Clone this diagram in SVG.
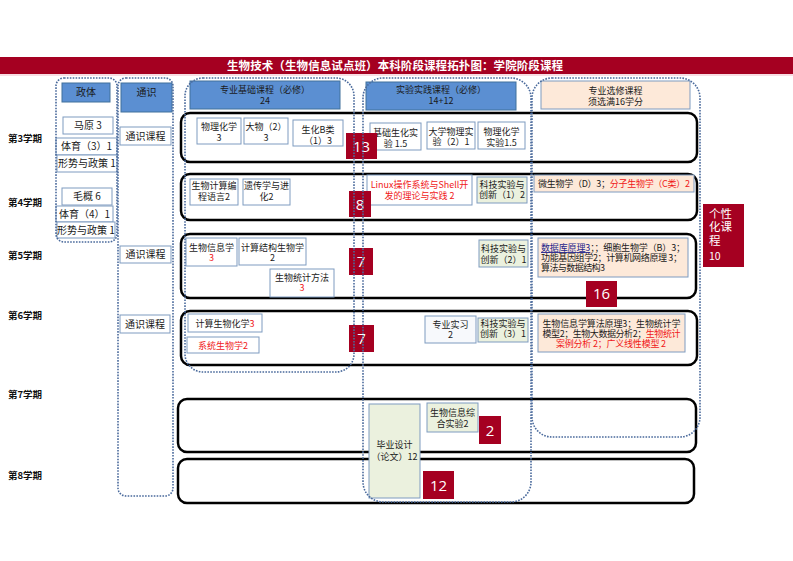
<svg xmlns="http://www.w3.org/2000/svg" width="793" height="561" viewBox="0 0 793 561">
<style>
text{font-family:"Noto Sans CJK SC","Noto Sans",sans-serif}
.box{fill:#fff;stroke:#7E9BC0;stroke-width:1}
.green{fill:#EBF1DE;stroke:#7E9BC0;stroke-width:1}
.peach{fill:#FDE9D9;stroke:#7E9BC0;stroke-width:1}
.hdr{fill:#5B8FD2;stroke:#41719C;stroke-width:1}
.row{fill:none;stroke:#000;stroke-width:2.5}
.col{fill:none;stroke:#4A6A9C;stroke-width:1.6;stroke-dasharray:1.6 1.3}
.num{fill:#A50021}
.numt{font-family:"Open Sans","Liberation Sans",sans-serif;font-size:15px;fill:#fff;text-anchor:middle}
.t{font-size:9px;fill:#1a1a1a;text-anchor:middle}
.tl{font-size:10px;fill:#1a1a1a;text-anchor:middle}
.ts{font-size:9px;fill:#1a1a1a}
.r{fill:#F01818}
.nv{fill:#1F1F8A}
.sem{font-size:9.5px;font-weight:bold;fill:#111}
</style>

<g id="title">
<rect x="0" y="57" width="793" height="17" fill="#A50021"/>
<rect x="0" y="74" width="793" height="2" fill="#F8DDE3"/>
<text x="395" y="69.8" font-size="11.5" font-weight="bold" fill="#fff" text-anchor="middle" textLength="336">生物技术（生物信息试点班）本科阶段课程拓扑图：学院阶段课程</text>
</g>

<g id="semesters">
<text class="sem" x="8" y="141.5">第3学期</text>
<text class="sem" x="8" y="205.5">第4学期</text>
<text class="sem" x="8" y="258.5">第5学期</text>
<text class="sem" x="8" y="318.5">第6学期</text>
<text class="sem" x="8" y="397.5">第7学期</text>
<text class="sem" x="8" y="478.5">第8学期</text>
</g>

<g id="rows">
<rect id="row3" class="row" x="181" y="113" width="516" height="49" rx="9"/>
<rect id="row4" class="row" x="181" y="174" width="516" height="46" rx="9"/>
<rect id="row5" class="row" x="181" y="234" width="515" height="64" rx="9"/>
<rect id="row6" class="row" x="181" y="311" width="516" height="54" rx="9"/>
<rect id="row7" class="row" x="178" y="399" width="518" height="53" rx="9"/>
<rect id="row8" class="row" x="178" y="459" width="516" height="44" rx="9"/>
</g>

<g id="zhengti-col">
<g id="h-zhengti"><rect class="hdr" x="62" y="83" width="48" height="19"/><text class="tl" x="86" y="96">政体</text></g>
<g id="mayuan"><rect class="box" x="63" y="117" width="50" height="17"/><text class="tl" x="88" y="129">马原 3</text></g>
<g id="tiyu3"><rect class="box" x="56" y="138" width="61" height="17"/><text class="tl" x="86.5" y="150">体育（3）1</text></g>
<g id="xingshi3"><rect class="box" x="57" y="155" width="60" height="17"/><text class="tl" x="87" y="167" font-size="9">形势与政策 1</text></g>
<g id="maogai"><rect class="box" x="62" y="188" width="50" height="17"/><text class="tl" x="87" y="200">毛概 6</text></g>
<g id="tiyu4"><rect class="box" x="56" y="206" width="57" height="16"/><text class="tl" x="84.5" y="218">体育（4）1</text></g>
<g id="xingshi4"><rect class="box" x="57" y="222" width="58" height="16"/><text class="tl" x="86" y="234" font-size="9">形势与政策 1</text></g>
</g>

<g id="tongshi-col">
<g id="h-tongshi"><rect class="hdr" x="121" y="83" width="51" height="29"/><text class="tl" x="146.5" y="96">通识</text></g>
<g id="ts3"><rect class="box" x="120" y="127" width="51" height="18"/><text class="tl" x="145.5" y="140">通识课程</text></g>
<g id="ts5"><rect class="box" x="120" y="246" width="51" height="17"/><text class="tl" x="145.5" y="258">通识课程</text></g>
<g id="ts6"><rect class="box" x="120" y="315" width="50" height="18"/><text class="tl" x="145" y="328">通识课程</text></g>
</g>

<g id="jichu-col">
<g id="h-jichu"><rect class="hdr" x="190" y="81" width="150" height="28"/><text class="t"><tspan x="265" y="93">专业基础课程（必修）</tspan><tspan x="265" y="104">24</tspan></text></g>
<g id="wlhx"><rect class="box" x="197" y="118" width="44" height="26"/><text class="t"><tspan x="219" y="130">物理化学</tspan><tspan x="219" y="141">3</tspan></text></g>
<g id="dawu"><rect class="box" x="244" y="118" width="44" height="26"/><text class="t"><tspan x="266" y="130">大物（2）</tspan><tspan x="266" y="141">3</tspan></text></g>
<g id="shenghua"><rect class="box" x="293" y="120" width="50" height="26"/><text class="t"><tspan x="318" y="133">生化B类</tspan><tspan x="318" y="144">（1）3</tspan></text></g>
<g id="swjsbc"><rect class="box" x="190" y="179" width="48" height="26"/><text class="t"><tspan x="214" y="189">生物计算编</tspan><tspan x="214" y="200">程语言2</tspan></text></g>
<g id="ychx"><rect class="box" x="243" y="179" width="47" height="26"/><text class="t"><tspan x="266.5" y="189">遗传学与进</tspan><tspan x="266.5" y="200">化2</tspan></text></g>
<g id="swxxx"><rect class="box" x="186" y="238" width="51" height="28"/><text class="t"><tspan x="211.5" y="251">生物信息学</tspan><tspan class="r" x="211.5" y="261">3</tspan></text></g>
<g id="jsjg"><rect class="box" x="239" y="238" width="67" height="27"/><text class="t"><tspan x="272.5" y="251">计算结构生物学</tspan><tspan x="272.5" y="261">2</tspan></text></g>
<g id="swtj"><rect class="box" x="270" y="269" width="64" height="28"/><text class="t"><tspan x="302" y="281">生物统计方法</tspan><tspan class="r" x="302" y="291">3</tspan></text></g>
<g id="jsswhx"><rect class="box" x="188" y="314" width="74" height="18"/><text class="t" x="225" y="326.5">计算生物化学<tspan class="r">3</tspan></text></g>
<g id="xtswx"><rect class="box" x="187" y="337" width="72" height="16"/><text class="t r" x="223" y="348.5">系统生物学2</text></g>
</g>

<g id="shiyan-col">
<g id="h-shiyan"><rect class="hdr" x="366" y="82" width="150" height="28"/><text class="t"><tspan x="441" y="93">实验实践课程（必修）</tspan><tspan x="441" y="104">14+12</tspan></text></g>
<g id="jcsh"><rect class="box" x="370" y="123" width="51" height="27"/><text class="t"><tspan x="395.5" y="136">基础生化实</tspan><tspan x="395.5" y="146.5">验 1.5</tspan></text></g>
<g id="dxwl"><rect class="box" x="427" y="122" width="48" height="27"/><text class="t"><tspan x="451" y="135">大学物理实</tspan><tspan x="451" y="145">验（2）1</tspan></text></g>
<g id="wlhxsy"><rect class="box" x="478" y="122" width="47" height="27"/><text class="t"><tspan x="501.5" y="135">物理化学</tspan><tspan x="501.5" y="146">实验1.5</tspan></text></g>
<g id="linux"><rect class="box" x="367" y="175" width="105" height="30"/><text class="t r"><tspan x="419.5" y="188">Linux操作系统与Shell开</tspan><tspan x="419.5" y="199">发的理论与实践 2</tspan></text></g>
<g id="kj1"><rect class="green" x="477" y="177" width="50" height="26"/><text class="t"><tspan x="502" y="187.5">科技实验与</tspan><tspan x="502" y="198">创新（1）2</tspan></text></g>
<g id="kj2"><rect class="green" x="479" y="240" width="49" height="27"/><text class="t"><tspan x="503.5" y="252">科技实验与</tspan><tspan x="503.5" y="262.5">创新（2）1</tspan></text></g>
<g id="zysx"><rect fill="#F7F9FC" stroke="#7E9BC0" x="425" y="316" width="51" height="27"/><text class="t"><tspan x="450.5" y="328">专业实习</tspan><tspan x="450.5" y="338">2</tspan></text></g>
<g id="kj3"><rect class="green" x="478" y="318" width="50" height="24"/><text class="t"><tspan x="503" y="326.5">科技实验与</tspan><tspan x="503" y="337">创新（3）1</tspan></text></g>
<g id="bysj"><rect class="green" x="369" y="404" width="51" height="94"/><text class="t"><tspan x="394.5" y="448">毕业设计</tspan><tspan x="394.5" y="460">（论文）12</tspan></text></g>
<g id="swxxzh"><rect class="green" x="427" y="403" width="51" height="29"/><text class="t"><tspan x="452.5" y="416">生物信息综</tspan><tspan x="452.5" y="426.5">合实验2</tspan></text></g>
</g>

<g id="xuanxiu-col">
<g id="h-xuanxiu"><rect class="peach" x="541" y="81" width="149" height="28"/><text class="t"><tspan x="615.5" y="94">专业选修课程</tspan><tspan x="615.5" y="105">须选满16学分</tspan></text></g>
<g id="xx4"><rect class="peach" x="534" y="175" width="160" height="17"/><text class="ts" x="538" y="187" textLength="152">微生物学（D）3；<tspan class="r">分子生物学（C类）2</tspan></text></g>
<g id="xx5"><rect class="peach" x="538" y="238" width="150" height="39"/>
<text class="ts"><tspan x="541" y="251" textLength="144"><tspan class="nv" text-decoration="underline">数据库原理3</tspan>；；细胞生物学（B）3；</tspan><tspan x="541" y="261" textLength="141">功能基因组学2；计算机网络原理 3；</tspan><tspan x="541" y="271" textLength="64">算法与数据结构3</tspan></text></g>
<g id="xx6"><rect class="peach" x="538" y="314" width="147" height="38"/>
<text class="t"><tspan x="611.5" y="327" textLength="138">生物信息学算法原理3；生物统计学</tspan><tspan x="611.5" y="337" textLength="138">模型2；生物大数据分析2；<tspan class="r">生物统计</tspan></tspan><tspan class="r" x="611" y="347" textLength="110">案例分析 2；广义线性模型 2</tspan></text></g>
</g>

<g id="counts">
<g id="n13"><rect class="num" x="346" y="133" width="31" height="26"/><text class="numt" x="361.5" y="151.5">13</text></g>
<g id="n8"><rect class="num" x="349" y="191" width="22" height="26"/><text class="numt" x="360" y="209.5">8</text></g>
<g id="n7a"><rect class="num" x="349" y="248" width="24" height="27"/><text class="numt" x="361" y="267">7</text></g>
<g id="n7b"><rect class="num" x="349" y="325" width="25" height="27"/><text class="numt" x="361.5" y="344">7</text></g>
<g id="n16"><rect class="num" x="586" y="281" width="31" height="26"/><text class="numt" x="601.5" y="299">16</text></g>
<g id="n2"><rect class="num" x="479" y="416" width="22" height="28"/><text class="numt" x="490" y="435.5">2</text></g>
<g id="n12"><rect class="num" x="423" y="471" width="31" height="28"/><text class="numt" x="438.5" y="490.5">12</text></g>
<g id="gexing"><rect class="num" x="703" y="204" width="41" height="63"/>
<text font-size="11.5" fill="#fff"><tspan x="709" y="217.5">个性</tspan><tspan x="709" y="231">化课</tspan><tspan x="709" y="244.5">程</tspan><tspan x="709" y="260" font-size="10.5">10</tspan></text></g>
</g>

<g id="columns">
<rect class="col" x="56" y="78" width="61" height="164" rx="8"/>
<rect class="col" x="118" y="78" width="55" height="418" rx="8"/>
<rect class="col" x="185" y="78" width="169" height="294" rx="18"/>
<rect class="col" x="363" y="78" width="168" height="424" rx="20"/>
<rect class="col" x="532" y="78" width="168" height="359" rx="20"/>
</g>

<g id="connectors"/>
</svg>
